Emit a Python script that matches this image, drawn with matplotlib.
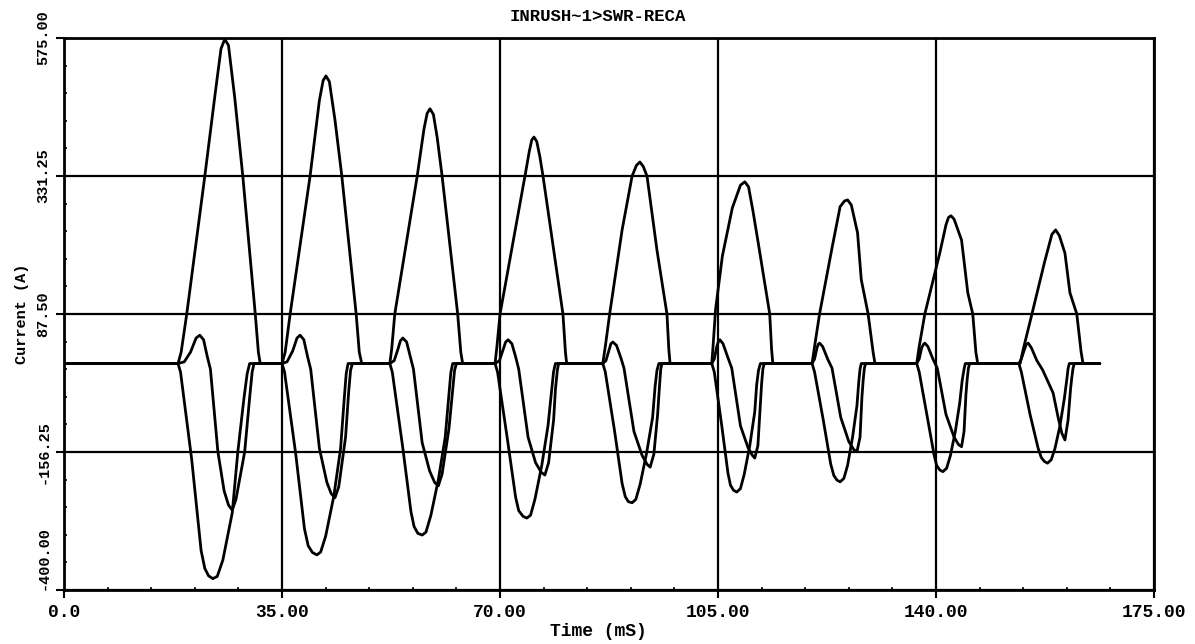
import matplotlib
matplotlib.use("Agg")
import matplotlib.pyplot as plt
from matplotlib.ticker import AutoMinorLocator

# three line currents of the inrush record
# time in ms, current in A, one row per cycle

# phase with the large positive pulses
a_time = [0.0,
          18.3, 18.8, 19.7, 22.6, 24.3, 25.2, 25.8, 26.4, 27.4, 28.7, 30.7, 31.2, 31.5,
          35.0, 35.5, 36.3, 39.5, 41.0, 41.6, 42.05, 42.6, 43.5, 44.6, 46.9, 47.4, 47.8,
          52.3, 52.6, 53.1, 56.7, 57.8, 58.3, 58.75, 59.3, 59.9, 60.7, 63.2, 63.7, 64.0,
          69.2, 69.5, 70.0, 74.0, 74.7, 75.1, 75.45, 75.9, 76.4, 76.9, 80.1, 80.5, 80.7,
          86.5, 86.9, 87.6, 89.6, 91.2, 91.9, 92.45, 93.0, 93.6, 95.2, 96.8, 97.1, 97.3,
          104.0, 104.2, 104.6, 105.7, 107.3, 108.6, 109.3, 109.9, 110.6, 111.5, 113.3, 113.6, 113.8,
          120.1, 120.5, 121.3, 123.3, 124.6, 125.3, 125.8, 126.4, 127.4, 128.0, 129.1, 129.9, 130.2,
          136.9, 137.3, 138.2, 140.6, 141.6, 142.0, 142.4, 142.9, 144.1, 145.1, 145.9, 146.4, 146.7,
          153.5, 154.0, 155.4, 157.4, 158.6, 159.2, 159.8, 160.7, 161.5, 162.6, 163.3, 163.6,
          166.3]
a_curr = [0,
          0, 20, 87.5, 331, 480, 556, 573, 562, 470, 331, 87.5, 20, 0,
          0, 20, 87.5, 331, 465, 500, 508, 498, 430, 331, 87.5, 20, 0,
          0, 25, 87.5, 331, 415, 442, 450, 440, 400, 331, 87.5, 20, 0,
          0, 30, 87.5, 331, 375, 395, 400, 392, 365, 331, 87.5, 20, 0,
          0, 30, 87.5, 236, 331, 350, 356, 348, 331, 200, 87.5, 25, 0,
          0, 30, 95, 190, 275, 315, 321, 312, 270, 210, 87.5, 25, 0,
          0, 30, 87.5, 204, 277, 287, 289, 280, 231, 148, 87.5, 20, 0,
          0, 30, 87.5, 195, 245, 258, 261, 255, 218, 125, 87.5, 20, 0,
          0, 25, 87.5, 178, 228, 236, 226, 195, 125, 87.5, 20, 0,
          0]

# phase with the deep negative pulses
b_time = [0.0,
          18.3, 18.7, 20.5, 22.0, 22.6, 23.2, 23.9, 24.6, 25.5, 27.0, 27.9, 28.9, 29.4, 29.8,
          35.0, 35.4, 37.2, 38.6, 39.2, 39.9, 40.6, 41.2, 42.0, 43.3, 44.4, 45.0, 45.3, 45.6,
          52.3, 52.7, 54.4, 55.7, 56.2, 56.8, 57.5, 58.1, 58.9, 60.1, 61.2, 61.8, 62.1, 62.4,
          69.2, 69.6, 71.2, 72.5, 73.0, 73.7, 74.3, 74.9, 75.6, 76.7, 77.7, 78.3, 78.6, 78.9,
          86.5, 86.9, 88.4, 89.6, 90.1, 90.6, 91.2, 91.8, 92.5, 93.5, 94.5, 94.9, 95.2, 95.5,
          104.0, 104.4, 105.6, 106.6, 107.0, 107.5, 108.0, 108.6, 109.2, 110.1, 110.9, 111.2, 111.5, 111.8,
          120.1, 120.5, 121.9, 123.1, 123.6, 124.1, 124.6, 125.2, 125.8, 126.6, 127.3, 127.6, 127.8, 128.0,
          136.9, 137.3, 138.6, 139.7, 140.1, 140.6, 141.1, 141.7, 142.3, 143.1, 143.8, 144.2, 144.5, 144.7,
          153.3, 153.7, 155.1, 156.4, 156.9, 157.4, 157.9, 158.5, 159.1, 159.9, 160.6, 161.0, 161.2, 161.4,
          166.3]
b_curr = [0,
          0, -15, -170, -330, -362, -375, -380, -376, -347, -264, -156, -60, -18, 0,
          0, -15, -160, -292, -322, -334, -338, -333, -305, -235, -150, -60, -18, 0,
          0, -15, -150, -262, -288, -300, -303, -298, -268, -205, -130, -55, -16, 0,
          0, -15, -135, -236, -260, -270, -273, -268, -240, -180, -110, -45, -14, 0,
          0, -15, -120, -212, -235, -244, -246, -240, -213, -160, -95, -40, -12, 0,
          0, -15, -110, -194, -215, -224, -227, -221, -196, -145, -85, -38, -12, 0,
          0, -15, -100, -178, -198, -206, -209, -203, -180, -130, -75, -32, -10, 0,
          0, -15, -95, -162, -180, -188, -191, -185, -163, -120, -70, -30, -10, 0,
          0, -15, -90, -150, -166, -173, -176, -170, -150, -110, -62, -28, -9, 0,
          0]

# phase with the small bump followed by a negative pulse
c_time = [0.0,
          18.3, 19.3, 20.3, 21.2, 21.8, 22.4, 23.0, 23.5, 24.7, 25.7, 26.4, 27.0, 27.6, 29.0, 29.8, 30.2, 30.5,
          35.0, 35.8, 36.7, 37.4, 37.9, 38.5, 39.1, 39.6, 41.0, 42.2, 42.9, 43.5, 44.1, 45.2, 45.7, 46.0, 46.3,
          52.3, 53.0, 53.6, 54.0, 54.4, 55.0, 55.6, 56.1, 57.5, 58.7, 59.5, 60.1, 60.7, 61.8, 62.4, 62.7, 63.0,
          69.2, 69.9, 70.5, 70.9, 71.3, 71.9, 72.5, 73.0, 74.5, 75.7, 76.6, 77.2, 77.8, 78.6, 78.9, 79.2, 79.4,
          86.5, 87.0, 87.4, 87.8, 88.1, 88.7, 89.4, 89.9, 91.5, 92.8, 93.6, 94.1, 94.7, 95.3, 95.6, 95.8, 96.0,
          104.0, 104.4, 104.8, 105.1, 105.3, 105.8, 106.6, 107.2, 108.6, 109.8, 110.5, 110.9, 111.4, 111.8, 112.0, 112.2, 112.4,
          120.1, 120.5, 120.9, 121.1, 121.3, 121.8, 122.6, 123.3, 124.7, 126.0, 126.8, 127.3, 127.8, 128.1, 128.3, 128.5, 128.7,
          136.9, 137.3, 137.7, 138.0, 138.2, 138.7, 139.5, 140.2, 141.6, 142.9, 143.6, 144.1, 144.5, 144.8, 145.0, 145.2, 145.4,
          153.3, 153.7, 154.2, 154.5, 154.8, 155.3, 156.2, 157.1, 158.8, 159.6, 160.2, 160.7, 161.2, 161.6, 161.8, 162.0, 162.2,
          166.3]
c_curr = [0,
          0, 3, 20, 45, 50, 42, 12, -10, -156, -225, -250, -259, -240, -156, -60, -15, 0,
          0, 3, 22, 45, 50, 42, 12, -10, -150, -210, -230, -237, -218, -130, -50, -12, 0,
          0, 5, 25, 40, 45, 38, 12, -10, -140, -190, -210, -216, -195, -115, -45, -12, 0,
          0, 5, 25, 38, 42, 35, 12, -10, -130, -175, -192, -197, -175, -100, -45, -12, 0,
          0, 5, 20, 35, 38, 32, 10, -8, -120, -162, -178, -183, -160, -90, -40, -10, 0,
          0, 8, 30, 40, 42, 35, 10, -8, -110, -148, -162, -167, -145, -70, -35, -10, 0,
          0, 8, 28, 34, 36, 30, 8, -8, -95, -138, -152, -156, -130, -60, -30, -8, 0,
          0, 8, 28, 34, 36, 30, 8, -8, -90, -130, -143, -147, -120, -55, -28, -8, 0,
          0, 8, 25, 34, 36, 28, 5, -11, -52, -95, -123, -135, -100, -45, -25, -8, 0,
          0]

x_ticks = [0, 35, 70, 105, 140, 175]
x_labels = ["0.0", "35.00", "70.00", "105.00", "140.00", "175.00"]
y_ticks = [-400, -156.25, 87.5, 331.25, 575]
y_labels = ["-400.00", "-156.25", "87.50", "331.25", "575.00"]

fig = plt.figure(figsize=(11.95, 6.44), dpi=100)
ax = fig.add_axes([0.0536, 0.0839, 0.9121, 0.8571])

for t, v in [(a_time, a_curr), (b_time, b_curr), (c_time, c_curr)]:
    ax.plot(t, v, color="black", lw=2.0, solid_joinstyle="round", solid_capstyle="round")

ax.set_xlim(0, 175)
ax.set_ylim(-400, 575)
ax.set_xticks(x_ticks)
ax.set_xticklabels(x_labels, family="Liberation Mono", weight="bold", fontsize=13)
ax.set_yticks(y_ticks)
ax.set_yticklabels(y_labels, family="Liberation Mono", weight="bold", fontsize=11,
                   rotation=90, va="center")
ax.get_yticklabels()[0].set_va("bottom")

ax.xaxis.set_minor_locator(AutoMinorLocator(5))
ax.yaxis.set_minor_locator(AutoMinorLocator(5))
ax.tick_params(which="major", length=6, width=1.5, color="black", pad=4)
ax.tick_params(which="minor", length=2, width=1.2, direction="in")

ax.grid(True, which="major", color="black", lw=1.6)
for s in ax.spines.values():
    s.set_linewidth(2.0)

ax.set_title("INRUSH~1>SWR-RECA", family="Liberation Mono", weight="bold",
             fontsize=12.5, pad=12, x=0.49)
ax.set_xlabel("Time (mS)", family="Liberation Mono", weight="bold", fontsize=13, labelpad=1)
ax.xaxis.set_label_coords(0.49, -0.06)
ax.set_ylabel("Current (A)", family="Liberation Mono", weight="bold", fontsize=11, labelpad=5)

fig.savefig("out.png", dpi=100)
